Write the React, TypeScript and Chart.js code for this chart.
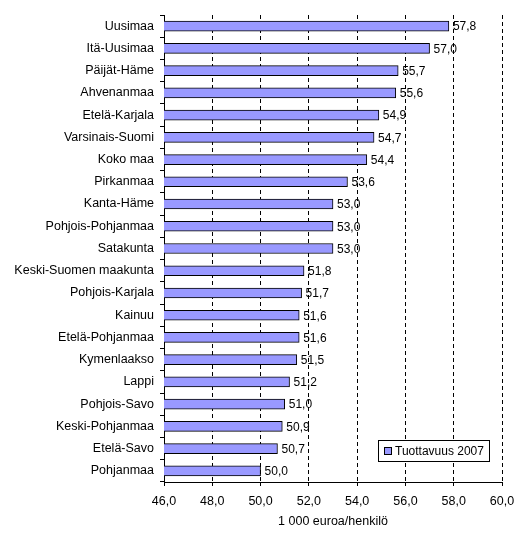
import React, { useEffect, useRef } from "react";
import { Chart, registerables } from "chart.js";

Chart.register(...registerables);

const categories = [
  "Uusimaa",
  "Itä-Uusimaa",
  "Päijät-Häme",
  "Ahvenanmaa",
  "Etelä-Karjala",
  "Varsinais-Suomi",
  "Koko maa",
  "Pirkanmaa",
  "Kanta-Häme",
  "Pohjois-Pohjanmaa",
  "Satakunta",
  "Keski-Suomen maakunta",
  "Pohjois-Karjala",
  "Kainuu",
  "Etelä-Pohjanmaa",
  "Kymenlaakso",
  "Lappi",
  "Pohjois-Savo",
  "Keski-Pohjanmaa",
  "Etelä-Savo",
  "Pohjanmaa",
];

const values = [
  57.8, 57.0, 55.7, 55.6, 54.9, 54.7, 54.4, 53.6, 53.0, 53.0, 53.0, 51.8, 51.7,
  51.6, 51.6, 51.5, 51.2, 51.0, 50.9, 50.7, 50.0,
];

const seriesName = "Tuottavuus 2007";
const axisTitle = "1 000 euroa/henkilö";
const xMin = 46;
const xMax = 60;
const xStep = 2;

const FONT = "'Liberation Sans', Arial, sans-serif";
const fmt = (v: number) => v.toFixed(1).replace(".", ",");

const valueLabels = {
  id: "valueLabels",
  afterDatasetsDraw(chart: any) {
    const ctx = chart.ctx;
    const meta = chart.getDatasetMeta(0);
    ctx.save();
    ctx.font = `12px ${FONT}`;
    ctx.fillStyle = "#000";
    ctx.textAlign = "left";
    ctx.textBaseline = "middle";
    meta.data.forEach((el: any, i: number) => {
      ctx.fillText(fmt(values[i]), el.x + 4, el.y + 1);
    });
    ctx.restore();
  },
};

const boxLegend = {
  id: "boxLegend",
  afterDraw(chart: any) {
    const ctx = chart.ctx;
    const x = 378,
      y = 440,
      w = 111,
      h = 21;
    ctx.save();
    ctx.fillStyle = "#fff";
    ctx.fillRect(x, y, w, h);
    ctx.strokeStyle = "#000";
    ctx.lineWidth = 1;
    ctx.strokeRect(x + 0.5, y + 0.5, w, h);
    ctx.fillStyle = "#9999FF";
    ctx.fillRect(x + 6, y + 7, 7, 7);
    ctx.strokeRect(x + 6.5, y + 7.5, 7, 7);
    ctx.fillStyle = "#000";
    ctx.font = `12px ${FONT}`;
    ctx.textAlign = "left";
    ctx.textBaseline = "middle";
    ctx.fillText(seriesName, x + 17, y + 11.5);
    ctx.restore();
  },
};

export default function App() {
  const ref = useRef<HTMLCanvasElement>(null);
  useEffect(() => {
    if (!ref.current) return;
    const chart = new Chart(ref.current, {
      type: "bar",
      data: {
        labels: categories,
        datasets: [
          {
            label: seriesName,
            data: values,
            backgroundColor: "#9999FF",
            borderColor: "#000",
            borderWidth: 1,
            barThickness: 10,
          },
        ],
      },
      options: {
        indexAxis: "y",
        animation: false,
        responsive: false,
        events: [],
        layout: { padding: { left: 0, top: 15, right: 30, bottom: 0 } },
        plugins: {
          legend: { display: false },
          tooltip: { enabled: false },
        },
        scales: {
          x: {
            min: xMin,
            max: xMax,
            ticks: {
              stepSize: xStep,
              color: "#000",
              font: { family: FONT, size: 12.5 },
              padding: 8,
              maxRotation: 0,
              callback: (v: any) => fmt(Number(v)),
            },
            grid: {
              color: "#000",
              lineWidth: 1,
              drawTicks: true,
              tickLength: 4,
            },
            border: { display: true, color: "#000", width: 1, dash: [4, 3] },
            title: {
              display: true,
              text: axisTitle,
              color: "#000",
              font: { family: FONT, size: 12.5 },
              padding: { top: 0, bottom: 9 },
            },
            afterFit: (scale: any) => {
              scale.height = 56;
            },
          },
          y: {
            ticks: {
              color: "#000",
              font: { family: FONT, size: 12.5 },
              padding: 6,
              autoSkip: false,
            },
            grid: {
              offset: true,
              drawOnChartArea: false,
              drawTicks: true,
              tickLength: 4,
              color: "#000",
            },
            border: { display: true, color: "#000", width: 1 },
            afterFit: (scale: any) => {
              scale.width = 164;
            },
          },
        },
      },
      plugins: [valueLabels, boxLegend],
    });
    return () => chart.destroy();
  }, []);
  return (
    <div style={{ position: "absolute", left: 0, top: 0, width: 532, height: 538, background: "#fff" }}>
      <canvas ref={ref} width={532} height={538} />
    </div>
  );
}
